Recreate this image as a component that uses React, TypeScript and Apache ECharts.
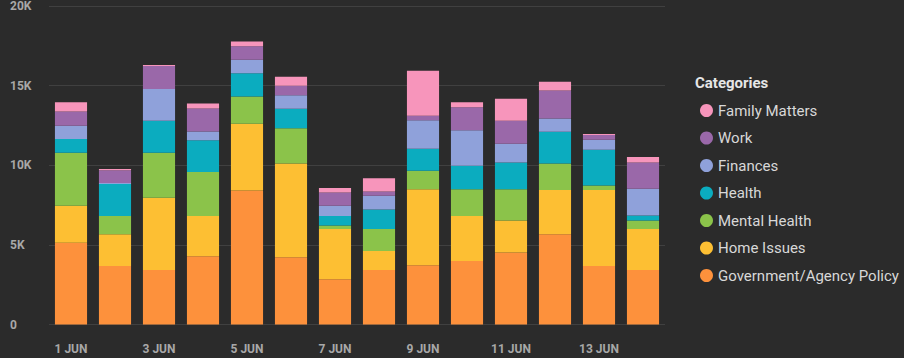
import React, { useEffect, useRef } from "react";
import * as echarts from "echarts";

const categories = ["1 JUN", "2 JUN", "3 JUN", "4 JUN", "5 JUN", "6 JUN", "7 JUN", "8 JUN", "9 JUN", "10 JUN", "11 JUN", "12 JUN", "13 JUN", "14 JUN"];

const seriesNames = ["Government/Agency Policy", "Home Issues", "Mental Health", "Health", "Finances", "Work", "Family Matters"];

const govPolicy = [5130, 3680, 3430, 4290, 8420, 4230, 2840, 3430, 3720, 3990, 4520, 5670, 3680, 3430];
const homeIssues = [2320, 1990, 4530, 2530, 4190, 5880, 3160, 1190, 4780, 2830, 2010, 2770, 4760, 2560];
const mentalHealth = [3340, 1150, 2830, 2750, 1700, 2210, 210, 1370, 1150, 1680, 1970, 1670, 290, 540];
const health = [860, 2000, 2000, 2000, 1460, 1230, 610, 1230, 1390, 1470, 1680, 2000, 2240, 310];
const finances = [830, 60, 2000, 550, 850, 840, 630, 860, 1780, 2220, 1170, 830, 630, 1680];
const work = [900, 800, 1450, 1450, 850, 610, 840, 270, 290, 1450, 1450, 1760, 300, 1660];
const familyMatters = [570, 80, 60, 300, 300, 550, 280, 840, 2830, 310, 1380, 550, 60, 340];

const yTicks = [0, 5000, 10000, 15000, 20000];

const colors = ["#fd913c", "#fdbf33", "#8bc34a", "#0bacbf", "#8fa1da", "#9a68a9", "#f795bb"];

const dataSets = [govPolicy, homeIssues, mentalHealth, health, finances, work, familyMatters];

export default function App() {
  const ref = useRef<HTMLDivElement>(null);

  useEffect(() => {
    if (!ref.current) return;
    const chart = echarts.init(ref.current, null, { renderer: "svg" });
    const fmt = (v: number) => (v === 0 ? "0" : v / 1000 + "K");
    chart.setOption({
      animation: false,
      backgroundColor: "#2b2b2b",
      textStyle: { fontFamily: "Roboto" },
      title: {
        text: "Categories",
        left: 690,
        top: 70,
        textStyle: { color: "#e6e6e6", fontSize: 15, fontWeight: "bold", fontFamily: "Roboto" },
      },
      legend: {
        orient: "vertical",
        left: 695,
        top: 98,
        icon: "circle",
        itemWidth: 13,
        itemHeight: 13,
        itemGap: 12.5,
        data: [...seriesNames].reverse(),
        textStyle: { color: "#d8d8d8", fontSize: 15, fontFamily: "Roboto" },
      },
      grid: { left: 49, right: 239, top: 6, bottom: 33.5, containLabel: false },
      xAxis: {
        type: "category",
        data: categories,
        axisLine: { show: false },
        axisTick: { show: false },
        axisLabel: {
          interval: 1,
          color: "#a8a8a8",
          fontSize: 12,
          fontWeight: "bold",
          margin: 18,
        },
      },
      yAxis: {
        type: "value",
        min: yTicks[0],
        max: yTicks[yTicks.length - 1],
        interval: 5000,
        axisLine: { show: false },
        axisTick: { show: false },
        splitLine: { lineStyle: { color: "#404040", width: 1 } },
        axisLabel: {
          color: "#a8a8a8",
          fontSize: 12,
          fontWeight: "bold",
          align: "left",
          margin: 39,
          formatter: fmt,
        },
      },
      series: seriesNames.map((name, i) => ({
        name,
        type: "bar",
        stack: "total",
        barCategoryGap: "27%",
        itemStyle: { color: colors[i] },
        data: dataSets[i],
      })),
    });
    return () => chart.dispose();
  }, []);

  return (
    <div
      ref={ref}
      style={{ position: "fixed", left: 0, top: 0, width: 904, height: 358 }}
    />
  );
}
